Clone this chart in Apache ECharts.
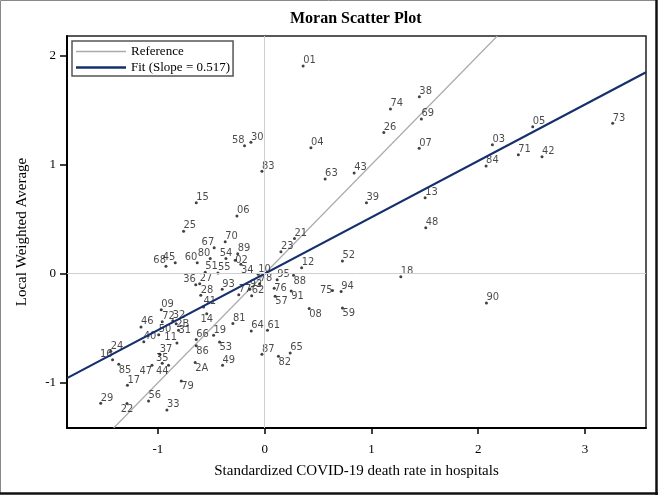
<!DOCTYPE html>
<html><head><meta charset="utf-8">
<script src="https://cdn.jsdelivr.net/npm/echarts@6/dist/echarts.min.js"></script>
<style>html,body{margin:0;padding:0;background:#fff}#c{width:660px;height:496px}</style>
</head><body><div id="c"></div>
<script>
// ---- data ----
const labels = ['01','02','03','04','05','06','07','08','09','10','11','12','13','14','15','16','17','18','19','21','22','23','24','25','26','27','28','29','2A','2B','30','31','32','33','34','35','36','37','38','39','40','41','42','43','44','45','46','47','48','49','50','51','52','53','54','55','56','57','58','59','60','61','62','63','64','65','66','67','68','69','70','71','72','73','74','75','76','77','78','79','80','81','82','83','84','85','86','87','88','89','90','91','92','93','94','95'];
const xValues = [0.360,-0.276,2.133,0.433,2.511,-0.260,1.447,0.417,-0.969,-0.061,-0.822,0.346,1.503,-0.543,-0.641,-1.425,-1.286,1.275,-0.479,0.279,-1.290,0.152,-1.442,-0.760,1.116,-0.609,-0.599,-1.536,-0.651,-0.829,-0.129,-0.807,-0.861,-0.916,-0.223,-0.960,-0.646,-0.983,1.449,0.953,-1.133,-0.573,2.598,0.838,-0.901,-0.838,-1.159,-1.056,1.509,-0.395,-0.993,-0.557,0.728,-0.423,-0.363,-0.438,-1.088,0.098,-0.189,0.728,-0.632,0.026,-0.122,0.566,-0.126,0.239,-0.641,-0.473,-0.925,1.468,-0.370,2.376,-0.960,3.260,1.178,0.635,0.089,-0.243,-0.047,-0.782,-0.510,-0.298,0.129,-0.026,2.074,-1.367,-0.641,-0.026,0.270,-0.253,2.077,0.248,-0.140,-0.398,0.716,0.117];
const yValues = [1.904,0.124,1.182,1.154,1.347,0.528,1.149,-0.319,-0.330,-0.005,-0.635,0.055,0.695,-0.367,0.650,-0.789,-1.023,-0.029,-0.564,0.323,-1.191,0.200,-0.711,0.390,1.295,-0.092,-0.197,-1.188,-0.814,-0.459,1.204,-0.518,-0.431,-1.250,0.087,-0.821,-0.101,-0.739,1.622,0.650,-0.624,-0.305,1.072,0.922,-0.839,0.099,-0.488,-0.839,0.420,-0.839,-0.560,0.014,0.115,-0.626,0.139,0.007,-1.167,-0.206,1.172,-0.314,0.099,-0.518,-0.202,0.867,-0.525,-0.727,-0.604,0.237,0.069,1.417,0.292,1.090,-0.440,1.378,1.509,-0.154,-0.133,-0.193,-0.092,-0.983,0.139,-0.457,-0.757,0.938,0.986,-0.830,-0.661,-0.739,-0.014,0.183,-0.268,-0.158,-0.142,-0.142,-0.163,-0.055];
const xTicks = [-1, 0, 1, 2, 3];
const yTicks = [-1, 0, 1, 2];
const fitSlope = 0.517;
const xRange = [-1.852, 3.572];
const yRange = [-1.415, 2.179];

// ---- label placement (style only) ----
const placement = {
  '58':'tl','02':'r','08':'br','11':'tl','14':'b','16':'tl','22':'b','2A':'br','2B':'r','31':'r',
  '34':'br','35':'t','36':'tl','44':'bl','45':'tl','47':'bl','53':'br','54':'t','57':'br','59':'br',
  '60':'tl','67':'tl','68':'tl','75':'l','76':'r','79':'br','80':'tl','82':'br','85':'br','86':'br',
  '88':'br','91':'br'
};
const placeStyle = {
  tr:{offset:[1,-1],align:'left',verticalAlign:'bottom'},
  tl:{offset:[-1,-1],align:'right',verticalAlign:'bottom'},
  br:{offset:[1.5,-1],align:'left',verticalAlign:'top'},
  bl:{offset:[-1.5,-1],align:'right',verticalAlign:'top'},
  r:{offset:[2.5,0],align:'left',verticalAlign:'middle'},
  l:{offset:[-2.5,0],align:'right',verticalAlign:'middle'},
  t:{offset:[0,-1.5],align:'center',verticalAlign:'bottom'},
  b:{offset:[0,1.5],align:'center',verticalAlign:'top'}
};

const pts = labels.map((n, i) => {
  const p = placeStyle[placement[n] || 'tr'];
  return {name: n, value: [xValues[i], yValues[i]],
    label: {position: 'inside', offset: p.offset, align: p.align, verticalAlign: p.verticalAlign}};
});

const refLo = Math.max(xRange[0], yRange[0]);
const refHi = Math.min(xRange[1], yRange[1]);
const fitName = 'Fit (Slope = ' + fitSlope + ')';
const serif = "'Liberation Serif', 'Times New Roman', serif";

const chart = echarts.init(document.getElementById('c'), null, {renderer: 'canvas'});
chart.setOption({
  animation: false,
  backgroundColor: '#fff',
  title: {text: 'Moran Scatter Plot', left: 290, top: 11, padding: 0,
    textStyle: {fontFamily: serif, fontWeight: 'bold', fontSize: 16, color: '#000'}},
  grid: {left: 67, right: 14, top: 36, bottom: 68, show: true, borderColor: '#222', borderWidth: 1.5, backgroundColor: 'transparent'},
  legend: {
    data: [
      {name: 'Reference', icon: 'path://M0,0H50V1.4H0Z'},
      {name: fitName, icon: 'path://M0,0H50V2.4H0Z'}
    ],
    orient: 'vertical', left: 72, top: 41,
    padding: [4, 3, 2, 4], itemWidth: 50, itemHeight: 14, itemGap: 3,
    borderColor: '#555', borderWidth: 1.5, backgroundColor: '#fff', selectedMode: false,
    textStyle: {fontFamily: serif, fontSize: 13, color: '#000'}
  },
  xAxis: {
    type: 'value', min: xRange[0], max: xRange[1],
    name: 'Standardized COVID-19 death rate in hospitals', nameLocation: 'middle', nameGap: 36,
    nameTextStyle: {fontFamily: serif, fontSize: 15, color: '#000'},
    axisLine: {show: true, onZero: false, lineStyle: {color: '#000', width: 2}},
    axisTick: {show: true, customValues: xTicks, length: 6, lineStyle: {color: '#000', width: 1.5}},
    axisLabel: {customValues: xTicks, fontFamily: serif, fontSize: 13, color: '#000', margin: 15},
    splitLine: {show: false}
  },
  yAxis: {
    type: 'value', min: yRange[0], max: yRange[1],
    name: 'Local Weighted Average', nameLocation: 'middle', nameGap: 37,
    nameTextStyle: {fontFamily: serif, fontSize: 15, color: '#000'},
    axisLine: {show: true, onZero: false, lineStyle: {color: '#000', width: 2}},
    axisTick: {show: true, customValues: yTicks, length: 7, lineStyle: {color: '#000', width: 1.5}},
    axisLabel: {customValues: yTicks, fontFamily: serif, fontSize: 13, color: '#000', margin: 11},
    splitLine: {show: false}
  },
  series: [
    {
      type: 'line', name: 'zero', data: [], z: 1, silent: true,
      markLine: {silent: true, symbol: ['none', 'none'], label: {show: false},
        lineStyle: {color: '#cfcfcf', width: 1, type: 'solid'},
        emphasis: {disabled: true},
        data: [{xAxis: 0}, {yAxis: 0}]}
    },
    {
      type: 'line', name: 'Reference', data: [[refLo, refLo], [refHi, refHi]], z: 2,
      symbol: 'none', silent: true, lineStyle: {color: '#ababab', width: 1.2}, itemStyle: {color: '#ababab'}
    },
    {
      type: 'scatter', name: 'pts', data: pts, z: 3, symbol: 'circle', symbolSize: 3, silent: true,
      itemStyle: {color: '#111'},
      label: {show: true, formatter: '{b}', color: '#1a1a1a', fontSize: 11, lineHeight: 11,
        fontFamily: "'Liberation Sans Narrow', 'DejaVu Sans Condensed', sans-serif",
        textBorderWidth: 0},
      labelLayout: {hideOverlap: false}
    },
    {
      type: 'line', name: fitName, data: [[xRange[0], fitSlope * xRange[0]], [xRange[1], fitSlope * xRange[1]]], z: 4,
      symbol: 'none', silent: true, lineStyle: {color: '#15306c', width: 2.2}, itemStyle: {color: '#15306c'}
    }
  ],
  graphic: [
    {type: 'rect', silent: true, shape: {x: 0.5, y: 0.5, width: 656, height: 493}, style: {fill: null, stroke: '#888', lineWidth: 1}},
    {type: 'line', silent: true, shape: {x1: 656.5, y1: 0, x2: 656.5, y2: 495}, style: {stroke: '#111', lineWidth: 2.5}},
    {type: 'line', silent: true, shape: {x1: 0, y1: 493.5, x2: 658, y2: 493.5}, style: {stroke: '#111', lineWidth: 2.5}}
  ]
});
</script></body></html>
